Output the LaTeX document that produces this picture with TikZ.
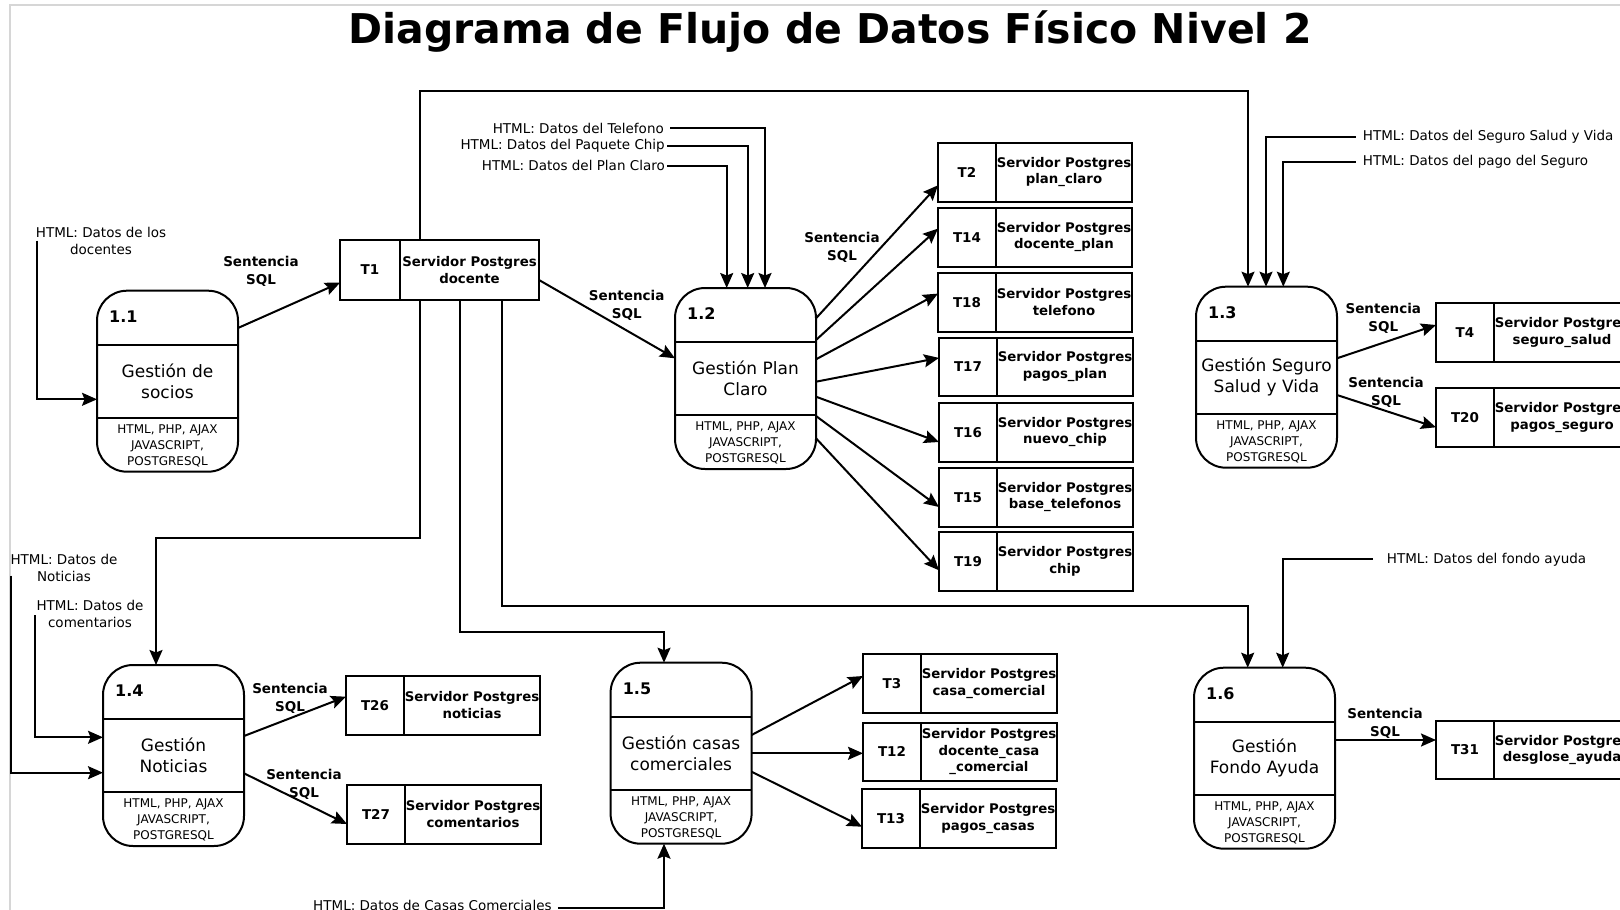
\documentclass[tikz,border=0pt]{standalone}
\usepackage{fontspec}
\setmainfont{DejaVu Sans}
\usetikzlibrary{arrows.meta,calc}
\tikzset{
  proc/.style={draw, line width=2pt, rounded corners=30pt, minimum width=141pt, minimum height=181pt, anchor=north west, inner sep=0pt, outer sep=0pt},
  sid/.style={draw, line width=2pt, minimum width=58pt, minimum height=58.5pt, anchor=north west, inner sep=0pt, outer sep=0pt, font=\bfseries\fontsize{13.5}{15}\selectfont},
  sname/.style={draw, line width=2pt, minimum width=136pt, minimum height=58.5pt, anchor=north west, inner sep=0pt, outer sep=0pt, align=center, font=\bfseries\fontsize{13.3}{16.5}\selectfont},
  flow/.style={line width=2pt, -{Stealth[length=15pt,width=13pt,inset=2.5pt]}},
  wire/.style={line width=2pt},
  lbl/.style={font=\bfseries\fontsize{13.5}{18}\selectfont, align=center, inner sep=0pt},
  inlbl/.style={font=\fontsize{13.5}{17}\selectfont, align=center, inner sep=0pt},
  pnum/.style={font=\bfseries\fontsize{16}{18}\selectfont, anchor=west, inner sep=0pt},
  pname/.style={font=\fontsize{17}{21.5}\selectfont, align=center, inner sep=0pt},
  ptech/.style={font=\fontsize{12}{16}\selectfont, align=center, inner sep=0pt},
  ttl/.style={font=\bfseries\fontsize{41}{45}\selectfont, inner sep=0pt},
  frame/.style={draw=black!16, line width=2pt}
}
\newcommand\procbox[5]{%
  \node[proc] (#1) at (#2,#3) {};
  \draw[wire] ($(#1.north west)+(0,54)$) -- ($(#1.north east)+(0,54)$);
  \draw[wire] ($(#1.north west)+(0,127)$) -- ($(#1.north east)+(0,127)$);
  \node[pnum] (#1num) at ($(#1.north west)+(12,26)$) {#4};
  \node[pname] (#1name) at ($(#1.north)+(0,90.5)$) {#5};
  \node[ptech] (#1tech) at ($(#1.north)+(0,155)$) {HTML, PHP, AJAX\\JAVASCRIPT,\\POSTGRESQL};
}
\newcommand\storebox[5]{%
  \node[sid] (#1) at (#2,#3) {#4};
  \node[sname] (#1n) at (#1.north east) {#5};
}
\begin{document}
\begin{tikzpicture}[x=1pt,y=-1pt]
\clip (0,0) rectangle (1620,910);
\fill[white] (0,0) rectangle (1620,910);
\draw[frame] (10,910) -- (10,4.7) -- (1620,4.7);
\node[ttl] (title) at (830,32) {Diagrama de Flujo de Datos Físico Nivel 2};

% processes
\procbox{p11}{97}{290.7}{1.1}{Gestión de\\socios}
\procbox{p12}{675}{288}{1.2}{Gestión Plan\\Claro}
\procbox{p13}{1196}{286.7}{1.3}{Gestión Seguro\\Salud y Vida}
\procbox{p14}{103}{665}{1.4}{Gestión\\Noticias}
\procbox{p15}{610.6}{662.7}{1.5}{Gestión casas\\comerciales}
\procbox{p16}{1194}{667.7}{1.6}{Gestión\\Fondo Ayuda}

% stores
\node[sid, minimum width=60pt, minimum height=60pt] (t1) at (340,240) {T1};
\node[sname, minimum width=139pt, minimum height=60pt] (t1n) at (t1.north east) {Servidor Postgres\\docente};
\storebox{t2}{938}{143}{T2}{Servidor Postgres\\plan\_claro}
\storebox{t14}{938}{208}{T14}{Servidor Postgres\\docente\_plan}
\storebox{t18}{938}{273}{T18}{Servidor Postgres\\telefono}
\storebox{t17}{939}{337.5}{T17}{Servidor Postgres\\pagos\_plan}
\storebox{t16}{939}{403}{T16}{Servidor Postgres\\nuevo\_chip}
\storebox{t15}{939}{468}{T15}{Servidor Postgres\\base\_telefonos}
\storebox{t19}{939}{532}{T19}{Servidor Postgres\\chip}
\storebox{t4}{1436}{303.3}{T4}{Servidor Postgres\\seguro\_salud}
\storebox{t20}{1436}{388.3}{T20}{Servidor Postgres\\pagos\_seguro}
\storebox{t31}{1436}{720.7}{T31}{Servidor Postgres\\desglose\_ayuda}
\storebox{t26}{346}{676}{T26}{Servidor Postgres\\noticias}
\storebox{t27}{347}{785}{T27}{Servidor Postgres\\comentarios}
\storebox{t3}{863}{654.3}{T3}{Servidor Postgres\\casa\_comercial}
\storebox{t12}{863}{722.7}{T12}{Servidor Postgres\\docente\_casa\\\_comercial}
\storebox{t13}{862}{789.3}{T13}{Servidor Postgres\\pagos\_casas}

% input labels
\node[inlbl] (in11) at (101,240.5) {HTML: Datos de los\\docentes};
\node[inlbl, anchor=east] (in12a) at (664,128.3) {HTML: Datos del Telefono};
\node[inlbl, anchor=east] (in12b) at (665,145.7) {HTML: Datos del Paquete Chip};
\node[inlbl, anchor=east] (in12c) at (665,165.7) {HTML: Datos del Plan Claro};
\node[inlbl, anchor=west] (in13a) at (1362.7,136.7) {HTML: Datos del Seguro Salud y Vida};
\node[inlbl, anchor=west] (in13b) at (1362.7,161.7) {HTML: Datos del pago del Seguro};
\node[inlbl] (in14a) at (64,567.6) {HTML: Datos de\\Noticias};
\node[inlbl] (in14b) at (90,614.3) {HTML: Datos de\\comentarios};
\node[inlbl, anchor=west] (in15) at (313,905) {HTML: Datos de Casas Comerciales};
\node[inlbl, anchor=west] (in16) at (1386.7,559.3) {HTML: Datos del fondo ayuda};

% input flows
\draw[flow] ($(in11.west)+(1,0)$) |- ($(p11.north west)+(0,108.6)$);
\draw[flow] ($(in12a.east)+(6,0)$) -| ($(p12.north west)+(90,0)$);
\draw[flow] ($(in12b.east)+(2,0)$) -| ($(p12.north west)+(72.7,0)$);
\draw[flow] ($(in12c.east)+(2,0)$) -| ($(p12.north west)+(51.7,0)$);
\draw[flow] ($(in13a.west)+(-7,0)$) -| ($(p13.north west)+(70,0)$);
\draw[flow] ($(in13b.west)+(-7,0)$) -| ($(p13.north west)+(87.3,0)$);
\draw[flow] ($(in14a.west)+(1,8)$) |- ($(p14.north west)+(0,107.7)$);
\draw[flow] ($(in14b.west)+(-1,1)$) |- ($(p14.north west)+(0,72.3)$);
\draw[flow] ($(in15.east)+(6,3)$) -| ($(p15.south west)+(53.4,0)$);
\draw[flow] ($(in16.west)+(-14,0)$) -| ($(p16.north west)+(88.7,0)$);

% T1 routing
\coordinate (k13) at ($(p13.north west)+(52,-195.7)$);
\draw[flow] ($(t1n.north west)+(20,0)$) |- (k13) -- ($(p13.north west)+(52,0)$);
\coordinate (k14) at ($(p14.north west)+(53,-126.7)$);
\draw[flow] ($(t1n.south west)+(20,0)$) |- (k14) -- ($(p14.north west)+(53,0)$);
\coordinate (k15) at ($(p15.north west)+(53.4,-30.7)$);
\draw[flow] ($(t1n.south west)+(60,0)$) |- (k15) -- ($(p15.north west)+(53.4,0)$);
\coordinate (k16) at ($(p16.north west)+(53.7,-61.7)$);
\draw[flow] ($(t1n.south west)+(102,0)$) |- (k16) -- ($(p16.north west)+(53.7,0)$);

% SQL flows
\draw[flow] ($(p11.north east)+(0,37.3)$) -- ($(t1.north west)+(0,42.7)$);
\node[lbl] (s1) at (261,271) {Sentencia\\SQL};
\draw[flow] ($(t1n.north east)+(0,40)$) -- ($(p12.north west)+(0,70.3)$);
\node[lbl] (s2) at (626.7,305.5) {Sentencia\\SQL};

\draw[flow] ($(p12.north east)+(0,30.3)$) -- ($(t2.north west)+(0,42.3)$);
\draw[flow] ($(p12.north east)+(0,52)$) -- ($(t14.north west)+(0,20.6)$);
\draw[flow] ($(p12.north east)+(0,71.3)$) -- ($(t18.north west)+(0,20.6)$);
\draw[flow] ($(p12.north east)+(0,93.7)$) -- ($(t17.north west)+(0,20.4)$);
\draw[flow] ($(p12.north east)+(0,108.7)$) -- ($(t16.north west)+(0,39)$);
\draw[flow] ($(p12.north east)+(0,128)$) -- ($(t15.north west)+(0,39)$);
\draw[flow] ($(p12.north east)+(0,150.3)$) -- ($(t19.north west)+(0,38.3)$);
\node[lbl] (s3) at (842,247) {Sentencia\\SQL};

\draw[flow] ($(p13.north east)+(0,71.6)$) -- ($(t4.north west)+(0,21.7)$);
\node[lbl] (s4) at (1383.3,318) {Sentencia\\SQL};
\draw[flow] ($(p13.north east)+(0,108.3)$) -- ($(t20.north west)+(0,39)$);
\node[lbl] (s5) at (1386,392.5) {Sentencia\\SQL};

\draw[flow] ($(p14.north east)+(0,71)$) -- ($(t26.north west)+(0,20.7)$);
\node[lbl] (s6) at (290,698.3) {Sentencia\\SQL};
\draw[flow] ($(p14.north east)+(0,108.3)$) -- ($(t27.north west)+(0,39)$);
\node[lbl] (s7) at (304,784.7) {Sentencia\\SQL};

\draw[flow] ($(p15.north east)+(0,72.3)$) -- ($(t3.north west)+(0,21.7)$);
\draw[flow] ($(p15.north east)+(0,90.6)$) -- ($(t12.north west)+(0,30.6)$);
\draw[flow] ($(p15.north east)+(0,109)$) -- ($(t13.north west)+(0,37.4)$);

\draw[flow] ($(p16.north east)+(0,72.3)$) -- ($(t31.north west)+(0,19.3)$);
\node[lbl] (s8) at (1385,723.4) {Sentencia\\SQL};
\end{tikzpicture}
\end{document}
